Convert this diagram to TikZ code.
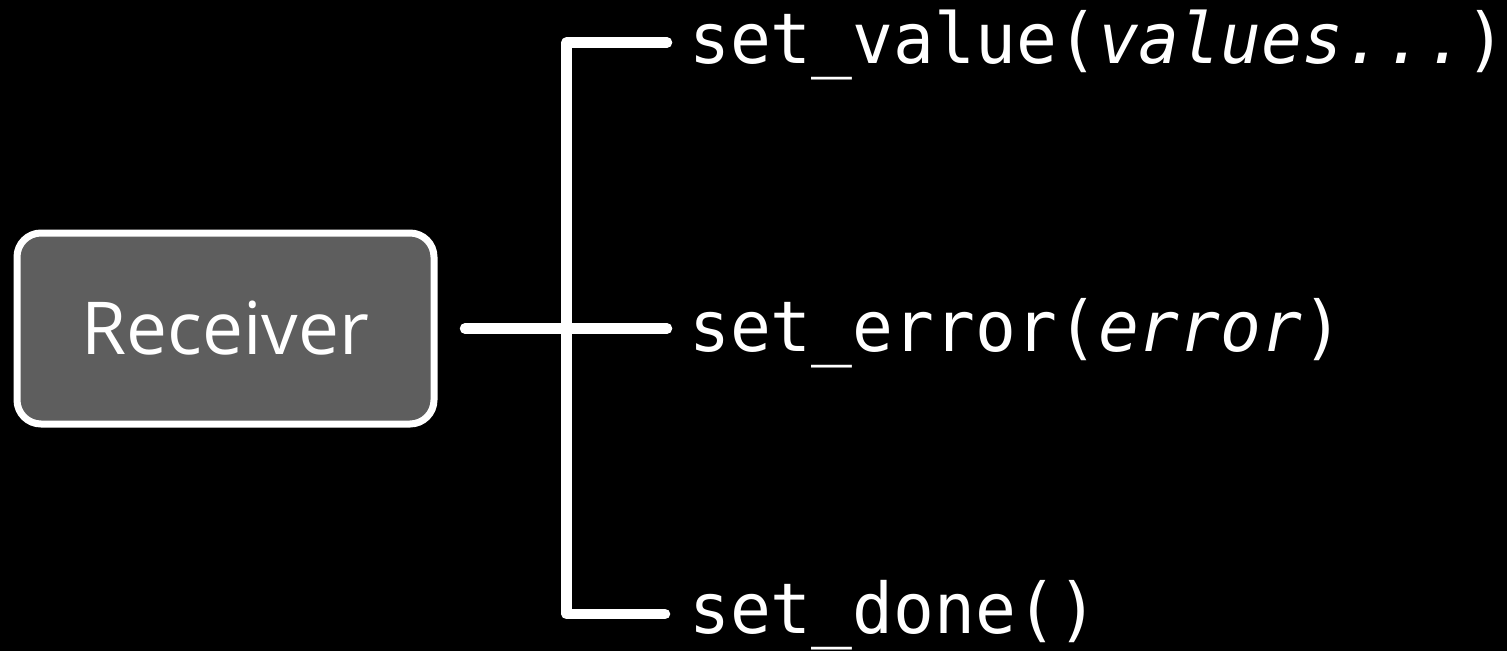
\documentclass[tikz,border=0pt]{standalone}
\usepackage{fontspec}
\setmainfont{Open Sans}
\setmonofont[FakeStretch=0.97]{DejaVu Sans Mono}
\definecolor{boxgray}{HTML}{5E5E5E}
\begin{document}
\begin{tikzpicture}[x=1pt,y=-1pt,
  wire/.style={white, line width=10.5pt, line cap=round, line join=round},
  recvbox/.style={draw=white, line width=7pt, fill=boxgray, rounded corners=24pt,
    minimum width=417pt, minimum height=191pt, inner sep=0pt, text=white,
    font=\fontsize{73}{88}\selectfont},
  lbl/.style={anchor=base west, inner sep=0pt, text=white,
    font=\ttfamily\fontsize{70}{84}\selectfont}]
\fill[black] (0,0) rectangle (1507,651);
\useasboundingbox (0,0) rectangle (1507,651);
\node[recvbox] (recv) at (225.5,328.5) {Receiver};
\node[lbl] (val) at (689,63) {set\_value(\textit{values...})};
\node[lbl] (err) at (689,351.5) {set\_error(\textit{error})};
\node[lbl] (done) at (689,633) {set\_done()};
\coordinate (rs) at (465,328.5);
\coordinate (tv) at (667,42.5);
\coordinate (te) at (667,328.5);
\coordinate (td) at (665,614);
\coordinate (jt) at (566.5,42.5);
\coordinate (jb) at (566.5,614);
\draw[wire] (tv) -- (jt) -- (jb) -- (td);
\draw[wire] (rs) -- (te);
\end{tikzpicture}
\end{document}
